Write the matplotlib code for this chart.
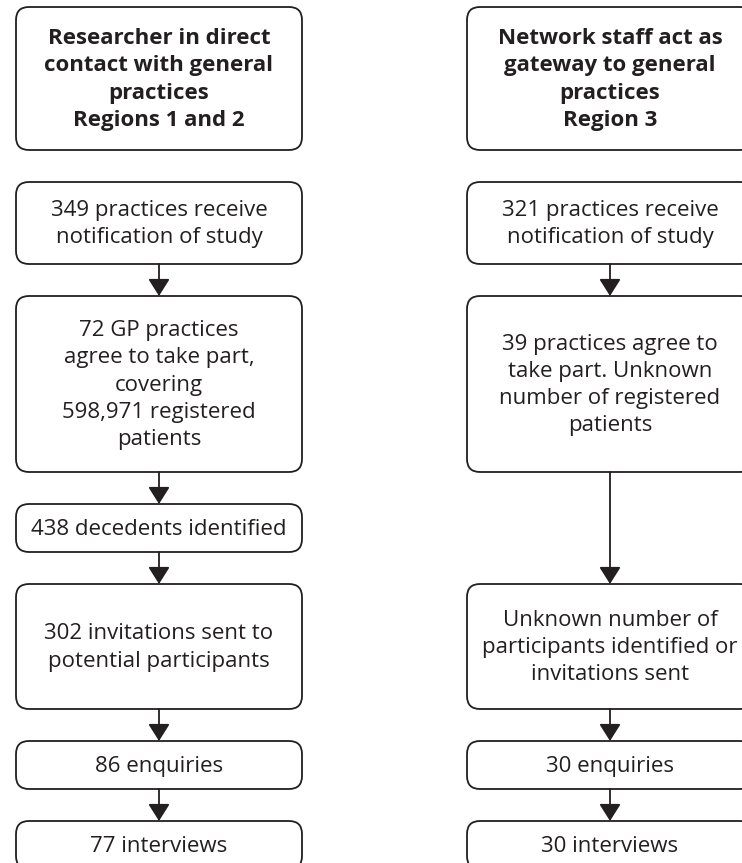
import matplotlib
matplotlib.use("Agg")
import matplotlib.pyplot as plt
from matplotlib.patches import FancyBboxPatch, FancyArrowPatch

plt.rcParams['font.family'] = ['Open Sans', 'DejaVu Sans']

# Flowchart content
left_texts = [
    "Researcher in direct\ncontact with general\npractices\nRegions 1 and 2",
    "349 practices receive\nnotification of study",
    "72 GP practices\nagree to take part,\ncovering\n598,971 registered\npatients",
    "438 decedents identified",
    "302 invitations sent to\npotential participants",
    "86 enquiries",
    "77 interviews",
]
right_texts = [
    "Network staff act as\ngateway to general\npractices\nRegion 3",
    "321 practices receive\nnotification of study",
    "39 practices agree to\ntake part. Unknown\nnumber of registered\npatients",
    "Unknown number of\nparticipants identified or\ninvitations sent",
    "30 enquiries",
    "30 interviews",
]
# Box vertical extents (pixel rows, top/bottom)
left_tops = [7, 182, 296, 504, 584, 741, 821]
left_bots = [150, 264, 472, 552, 709, 789, 869]
right_tops = [7, 182, 296, 584, 741, 821]
right_bots = [150, 264, 472, 709, 789, 869]
bold_first = True

W, H = 742, 863
fig = plt.figure(figsize=(W / 100, H / 100), dpi=100)
ax = fig.add_axes([0, 0, 1, 1])
ax.set_xlim(0, W)
ax.set_ylim(H, 0)
ax.axis('off')

lw = 1.3
col = '#231f20'
fs = 16


def column(texts, tops, bots, x0, x1):
    cx = (x0 + x1) / 2
    for i, (t, y0, y1) in enumerate(zip(texts, tops, bots)):
        p = FancyBboxPatch((x0, y0), x1 - x0, y1 - y0,
                           boxstyle="round,pad=0,rounding_size=13",
                           fc='white', ec=col, lw=lw, clip_on=False)
        ax.add_patch(p)
        ax.text(cx, (y0 + y1) / 2 + 1, t, ha='center', va='center',
                fontsize=fs, color=col, linespacing=1.39,
                fontweight='bold' if (i == 0 and bold_first) else 'normal')
    for i in range(1, len(texts) - 1):
        a = FancyArrowPatch((cx, bots[i]), (cx, tops[i + 1]),
                            arrowstyle='-|>,head_length=0.95,head_width=0.6',
                            mutation_scale=11, lw=lw, color=col,
                            shrinkA=0, shrinkB=0)
        ax.add_patch(a)


column(left_texts, left_tops, left_bots, 16, 302)
column(right_texts, right_tops, right_bots, 467, 753)

fig.savefig("out.png", dpi=100)
